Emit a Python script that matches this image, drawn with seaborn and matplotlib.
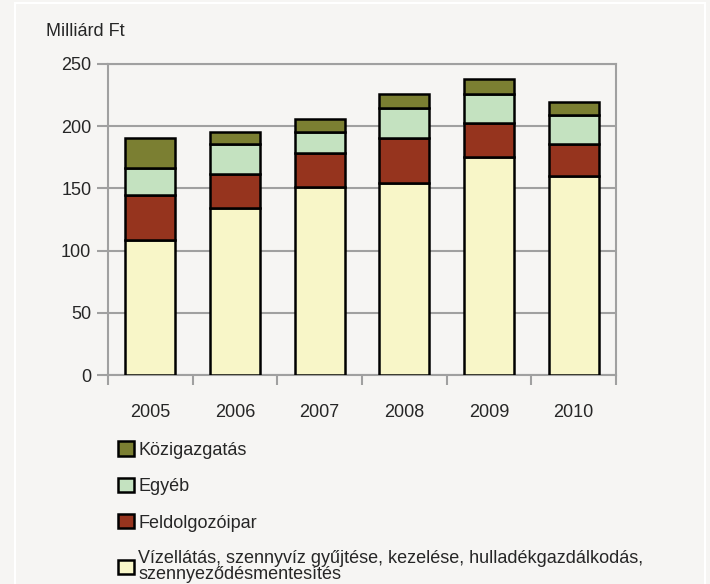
import matplotlib
matplotlib.use('Agg')
import matplotlib.pyplot as plt
import matplotlib.patches as mpatches
import numpy as np
import seaborn as sns

sns.set_style('white')
plt.rcParams['font.family'] = ['Liberation Sans', 'DejaVu Sans']

# Data (Milliárd Ft)
years = ['2005', '2006', '2007', '2008', '2009', '2010']
vizellatas = [108.5, 134.2, 151.4, 154.1, 175.5, 160.2]
feldolgozoipar = [36.5, 27.4, 27.1, 36.7, 27.3, 25.8]
egyeb = [21.7, 24.4, 16.8, 24.1, 22.8, 22.8]
kozigazgatas = [24.1, 9.3, 10.5, 11.0, 12.1, 10.9]

labels = ['Vízellátás, szennyvíz gyűjtése, kezelése, hulladékgazdálkodás,\nszennyeződésmentesítés',
          'Feldolgozóipar', 'Egyéb', 'Közigazgatás']
colors = ['#F8F6C8', '#96341E', '#C4E2C0', '#7B7F32']
series = [vizellatas, feldolgozoipar, egyeb, kozigazgatas]

bg = '#F6F5F3'
grid_c = '#A0A0A0'
fs = 13

fig = plt.figure(figsize=(7.1, 5.84), dpi=100, facecolor=bg)
ax = fig.add_axes([108/710, 1 - 375/584, 508/710, 311/584])
ax.set_facecolor(bg)

bottom = np.zeros(len(years))
for vals, col in zip(series, colors):
    sns.barplot(x=years, y=vals, bottom=bottom, color=col, saturation=1, width=0.59,
                edgecolor='black', linewidth=1.8, ax=ax, zorder=3)
    bottom = bottom + np.array(vals)

ax.set_ylim(0, 250)
ax.set_xlim(-0.5, 5.5)
ax.set_yticks(range(0, 251, 50))
ax.yaxis.grid(True, color=grid_c, linewidth=1.5, zorder=0)
ax.set_axisbelow(True)
for s in ax.spines.values():
    s.set_color(grid_c)
    s.set_linewidth(1.5)

ax.tick_params(axis='y', length=8, width=1.5, color=grid_c, labelsize=fs, pad=4, left=True)
ax.tick_params(axis='x', which='major', length=0, labelsize=fs, pad=21)
ax.set_xticks(np.arange(-0.5, 6, 1), minor=True)
ax.tick_params(axis='x', which='minor', length=7, width=1.5, color=grid_c, bottom=True)
ax.set_xlabel('')
ax.set_ylabel('')

fig.text(46/710, 1 - 31/584, 'Milliárd Ft', fontsize=fs, va='center', ha='left')

# legend
handles = [mpatches.Patch(facecolor=c, edgecolor='black', linewidth=1.8) for c in colors]
leg = fig.legend(handles[::-1], labels[::-1], loc='upper left',
                 bbox_to_anchor=(102/710, 1 - 425/584), frameon=False,
                 fontsize=fs, handlelength=0.85, handleheight=0.85,
                 handletextpad=0.25, labelspacing=1.05)
for t in leg.get_texts():
    t.set_linespacing(0.85)

# thin white frame
fig.add_artist(mpatches.Rectangle((15/710, -0.01), 690/710, 1 - 3/584 + 0.01,
                                  transform=fig.transFigure, fill=False,
                                  edgecolor='white', linewidth=1.5))

fig.savefig('out.png', dpi=100, facecolor=bg)
